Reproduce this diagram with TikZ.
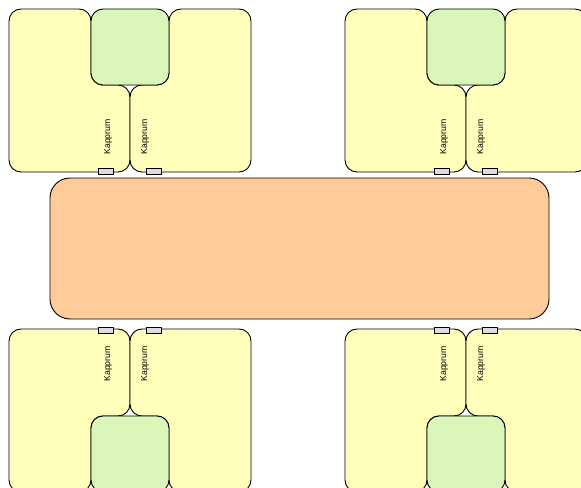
\documentclass[tikz,border=0pt]{standalone}
\usepackage{fontspec}
\setmainfont{Liberation Sans}
\usetikzlibrary{positioning}

\begin{document}
\begin{tikzpicture}[x=0.75pt,y=-0.75pt]
		    \definecolor{roomcolor}{RGB}{255,255,187}
		    \definecolor{kitchencolor}{RGB}{218,247,185}
		    \definecolor{tablecolor}{RGB}{255,204,153}
		    \definecolor{doorcolor}{RGB}{221,221,221}
		    \tikzset{
		      room/.style={draw,fill=roomcolor,line width=0.7pt,rounded corners=9pt},
		      kitchen/.style={draw,fill=kitchencolor,line width=0.7pt,rounded corners=9pt,minimum width=58.5pt,minimum height=57pt,inner sep=0pt},
		      door/.style={draw,fill=doorcolor,line width=0.5pt,minimum width=11.25pt,minimum height=4.5pt,inner sep=0pt},
		      roomlabel/.style={rotate=90,inner sep=0pt,font=\fontsize{6.5}{7}\selectfont}
		    }
		    \useasboundingbox (0,0) rectangle (581,488);
		    \clip (0,0) rectangle (581,488);
		    
		    \foreach \g/\dx/\dy/\s in {nv/0/0/1,no/336/0/1,sv/0/501/-1,so/336/501/-1}{
		      \begin{scope}[shift={(\dx,\dy)},yscale=\s]
		        \draw[room] (9,9) -- (91,9) -- (91,85) -- (130,85) -- (130,172) -- (9,172) -- cycle;
		        \draw[room] (169,9) -- (251,9) -- (251,172) -- (130,172) -- (130,85) -- (169,85) -- cycle;
		        \node[kitchen] (kitchen\g) at (130,47) {};
		        \node[door] (doorA\g) at (106,171) {};
		        \node[door] (doorB\g) at (154,171) {};
		        \node[roomlabel] (roomA\g) at (108,137) {Kapprum};
		        \node[roomlabel] (roomB\g) at (145,137) {Kapprum};
		      \end{scope}
		    }
		    
		    \node[draw,fill=tablecolor,line width=0.7pt,rounded corners=15pt,minimum width=374.25pt,minimum height=105.75pt] (table) at (299.5,248.5) {};
\end{tikzpicture}
\end{document}
